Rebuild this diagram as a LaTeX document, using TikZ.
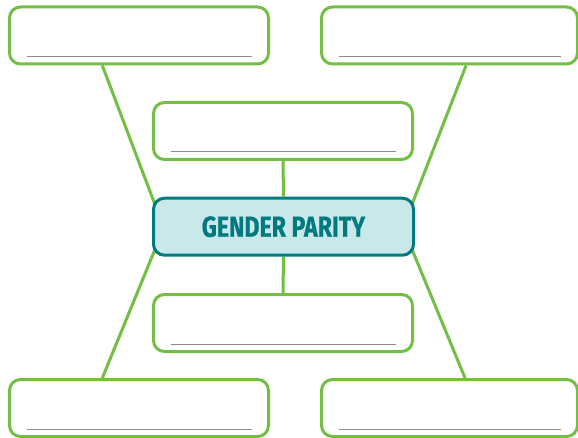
\documentclass[tikz,border=0pt]{standalone}
\usepackage{fontspec}
\usepackage{xcolor}
\usepackage{tikz}
\usetikzlibrary{calc,backgrounds}
\newfontfamily\titlefont[FakeStretch=0.8,FakeBold=0.6]{Fira Sans}
\definecolor{leaf}{HTML}{72BF44}
\definecolor{tealdark}{HTML}{007A80}
\definecolor{tealpale}{HTML}{C9E8EA}

\begin{document}
\begin{tikzpicture}[x=1pt, y=-1pt,
    box/.style={draw=leaf, line width=3pt, fill=white, rounded corners=11pt,
      minimum width=259pt, minimum height=57pt, inner sep=0pt},
    hub/.style={draw=tealdark, line width=3pt, fill=tealpale, rounded corners=11pt,
      minimum width=260pt, minimum height=57pt, inner sep=0pt,
      text=tealdark, font=\titlefont\bfseries\fontsize{29}{31}\selectfont},
    link/.style={draw=leaf, line width=3pt},
    rule/.style={draw=black!45, line width=1pt}]
  \useasboundingbox (0,0) rectangle (578,438);

  % centre
  \node[hub] (gp) at (283.5,226.7) {\raisebox{-1.5pt}{GENDER PARITY}};

  % boxes
  \node[box] (tl) at (139,35.5) {};
  \node[box, minimum width=256pt] (tr) at (449.5,35.5) {};
  \node[box] (mt) at (283,131) {};
  \node[box] (mb) at (283,323) {};
  \node[box] (bl) at (139,408) {};
  \node[box, minimum width=256pt] (br) at (449.5,408) {};

  % blanks to write on
  \foreach \b in {tl,tr,mt,mb,bl,br}
    \draw[rule] ($(\b.south west)+(18.5,-9)$) -- ($(\b.south east)+(-18.5,-9)$);

  % links (run on under the hub)
  \coordinate (tlfoot) at ($(tl.south west)!0.36!(tl.south east)$);
  \coordinate (trfoot) at ($(tr.south west)!0.564!(tr.south east)$);
  \coordinate (blhead) at ($(bl.north west)!0.36!(bl.north east)$);
  \coordinate (brhead) at ($(br.north west)!0.56!(br.north east)$);
  \begin{scope}[on background layer]
    \draw[link] (tlfoot) -- ($(tlfoot)!1.1!(gp.north west)$);
    \draw[link] (trfoot) -- ($(trfoot)!1.1!(gp.north east)$);
    \draw[link] (blhead) -- ($(blhead)!1.1!(gp.south west)$);
    \draw[link] (brhead) -- ($(brhead)!1.1!(gp.south east)$);
    \draw[link] (mt.south) -- (gp.north);
    \draw[link] (gp.south) -- (mb.north);
  \end{scope}
\end{tikzpicture}
\end{document}
